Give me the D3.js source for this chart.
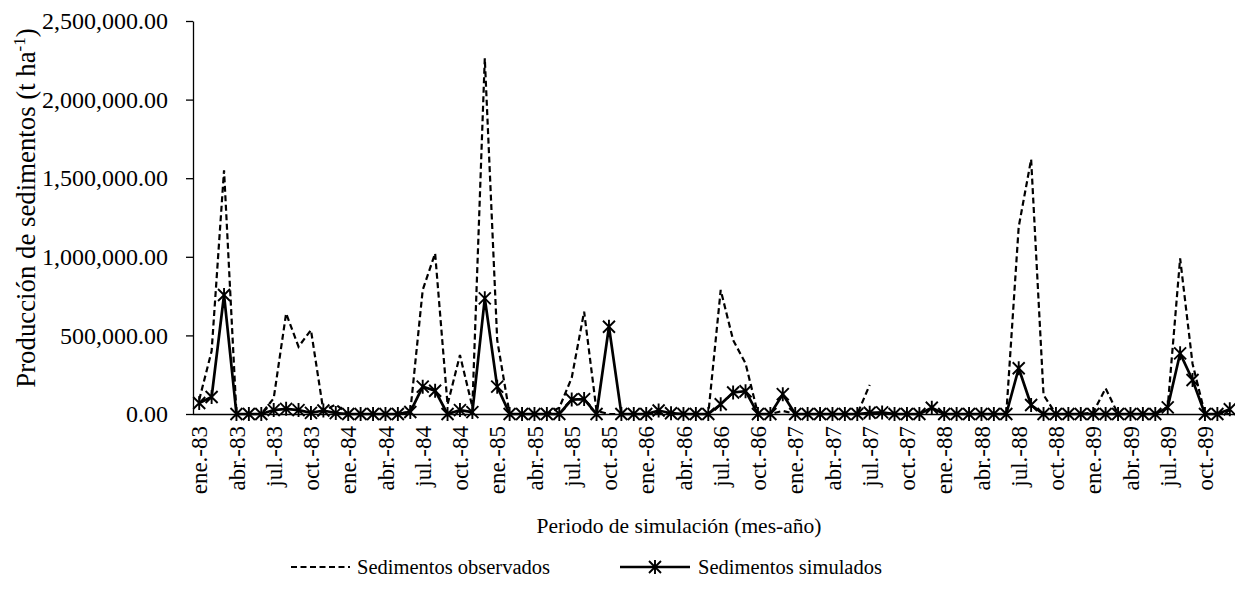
<!DOCTYPE html>
<html><head><meta charset="utf-8">
<script src="https://cdn.jsdelivr.net/npm/d3@7"></script>
<style>
body{margin:0;background:#fff}
svg{display:block}
text{font-family:"Liberation Serif","Times New Roman",serif;fill:#000}
</style>
</head><body>
<svg id="chart" width="1235" height="605"></svg>
<script>
const monthNames = ["ene.","feb.","mar.","abr.","may.","jun.","jul.","ago.","sep.","oct.","nov.","dic."];
const years = ["83","84","85","86","87","88","89"];
const categories = years.flatMap(y => monthNames.map(m => m + "-" + y));
const tickLabels = [
 "ene.-83","abr.-83","jul.-83","oct.-83","ene.-84","abr.-84","jul.-84","oct.-84",
 "ene.-85","abr.-85","jul.-85","oct.-85","ene.-86","abr.-86","jul.-86","oct.-86",
 "ene.-87","abr.-87","jul.-87","oct.-87","ene.-88","abr.-88","jul.-88","oct.-88",
 "ene.-89","abr.-89","jul.-89","oct.-89"];
// Sedimentos observados (null = no data)
const observed = [
 90000, 400000, 1550000, 0, 0, 0, 100000, 640000, 428000, 534000, 20000, 60000,
 0, 0, 0, 0, 0, 15000, 789000, 1022000, 60000, 375000, 45000, 2263000,
 470000, 0, 0, 0, 0, 40000, 230000, 651000, 20000, 0, 0, 0,
 0, 0, 0, 0, 0, 0, 789000, 470000, 322000, 0, 0, 20000,
 0, 0, 0, 0, 0, 0, 185000, null, null, null, null, null,
 null, null, null, null, null, 0, 1191000, 1620000, 121000, 0, 0, 0,
 10000, 163000, 0, 0, 0, 0, 45000, 990000, 320000, 0, 0, 0];
// Sedimentos simulados
const simulated = [
 70000, 108000, 757000, 0, 0, 0, 25000, 33000, 25000, 7000, 22000, 6000,
 0, 0, 0, 0, 0, 13000, 174000, 148000, 0, 25000, 12000, 736000,
 174000, 0, 0, 0, 0, 0, 92000, 95000, 0, 555000, 0, 0,
 0, 22000, 5000, 0, 0, 0, 62000, 137000, 145000, 0, 0, 126000,
 0, 0, 0, 0, 0, 0, 8000, 10000, 0, 0, 0, 40000,
 0, 0, 0, 0, 0, 0, 291000, 57000, 0, 0, 0, 0,
 0, 0, 0, 0, 0, 0, 42000, 386000, 216000, 0, 0, 30000];
const yTicks = [0, 500000, 1000000, 1500000, 2000000, 2500000];
const seriesNames = ["Sedimentos observados", "Sedimentos simulados"];

const svg = d3.select("#chart");
const mLeft = 193, mRight = 1236, mTop = 21, mBottom = 414;
const FONT = "Liberation Serif, Times New Roman, serif";

const x = d3.scalePoint().domain(categories).range([mLeft, mRight]).padding(0.5);
const y = d3.scaleLinear().domain([0, 2500000]).range([mBottom, mTop]);

// Y axis
const yAxis = d3.axisLeft(y).tickValues(yTicks).tickFormat(d3.format(",.2f"))
  .tickSize(7).tickSizeOuter(0).tickPadding(18);
const gy = svg.append("g").attr("transform", `translate(${mLeft},0)`).call(yAxis)
  .attr("font-family", FONT);
gy.select(".domain").attr("stroke", "#000").attr("stroke-width", 1.3);
gy.selectAll(".tick line").attr("stroke", "#000").attr("stroke-width", 1.3);
gy.selectAll(".tick text").attr("font-size", 24).attr("font-family", FONT);

// X axis
const xAxis = d3.axisBottom(x).tickValues(tickLabels).tickSize(0).tickSizeOuter(0);
const gx = svg.append("g").attr("transform", `translate(0,${mBottom})`).call(xAxis)
  .attr("font-family", FONT);
gx.select(".domain").attr("stroke", "#000").attr("stroke-width", 1.3)
  .attr("d", `M${mLeft},0.5H${mRight}`);
gx.selectAll(".tick text")
  .attr("font-size", 23).attr("font-family", FONT)
  .attr("text-anchor", "end")
  .attr("transform", "rotate(-90)")
  .attr("x", -12).attr("y", 0).attr("dy", "0.33em");

// lines
const lineObs = d3.line().defined(d => d.v != null).x(d => x(d.c)).y(d => y(d.v));
const lineSim = d3.line().x(d => x(d.c)).y(d => y(d.v));
const obsData = categories.map((c, i) => ({c, v: observed[i]}));
const simData = categories.map((c, i) => ({c, v: simulated[i]}));

svg.append("path").datum(obsData).attr("d", lineObs)
  .attr("fill", "none").attr("stroke", "#000").attr("stroke-width", 2.2)
  .attr("stroke-dasharray", "6,3.5");

svg.append("path").datum(simData).attr("d", lineSim)
  .attr("fill", "none").attr("stroke", "#000").attr("stroke-width", 2.7);

const star = "M-6,-6L6,6M-6,6L6,-6M0,-7L0,7";
svg.append("g").selectAll("path").data(simData).join("path")
  .attr("transform", d => `translate(${x(d.c)},${y(d.v)})`)
  .attr("d", star).attr("fill", "none").attr("stroke", "#000").attr("stroke-width", 1.9);

// axis titles
svg.append("text").attr("x", 679).attr("y", 533)
  .attr("text-anchor", "middle").attr("font-size", 21.5).attr("font-family", FONT)
  .text("Periodo de simulación (mes-año)");

const yt = svg.append("text").attr("transform", "translate(26,208) rotate(-90)")
  .attr("text-anchor", "middle").attr("dy", "0.35em").attr("font-size", 26.8).attr("font-family", FONT);
yt.append("tspan").text("Producción de sedimentos (t ha");
yt.append("tspan").attr("font-size", 17).attr("dy", "-10").text("-1");
yt.append("tspan").attr("dy", "10").text(")");

// legend
const ly = 567;
const lg = svg.append("g").attr("font-family", FONT);
lg.append("line").attr("x1", 291).attr("x2", 350).attr("y1", ly).attr("y2", ly)
  .attr("stroke", "#000").attr("stroke-width", 2.2).attr("stroke-dasharray", "6,3.5");
lg.append("text").attr("x", 357).attr("y", ly).attr("dy", "0.35em").attr("font-size", 20.5).text(seriesNames[0]);
lg.append("line").attr("x1", 620).attr("x2", 690).attr("y1", ly).attr("y2", ly)
  .attr("stroke", "#000").attr("stroke-width", 2.7);
lg.append("path").attr("transform", `translate(655,${ly})`).attr("d", star)
  .attr("fill", "none").attr("stroke", "#000").attr("stroke-width", 1.9);
lg.append("text").attr("x", 698).attr("y", ly).attr("dy", "0.35em").attr("font-size", 20.5).text(seriesNames[1]);
</script>
</body></html>
